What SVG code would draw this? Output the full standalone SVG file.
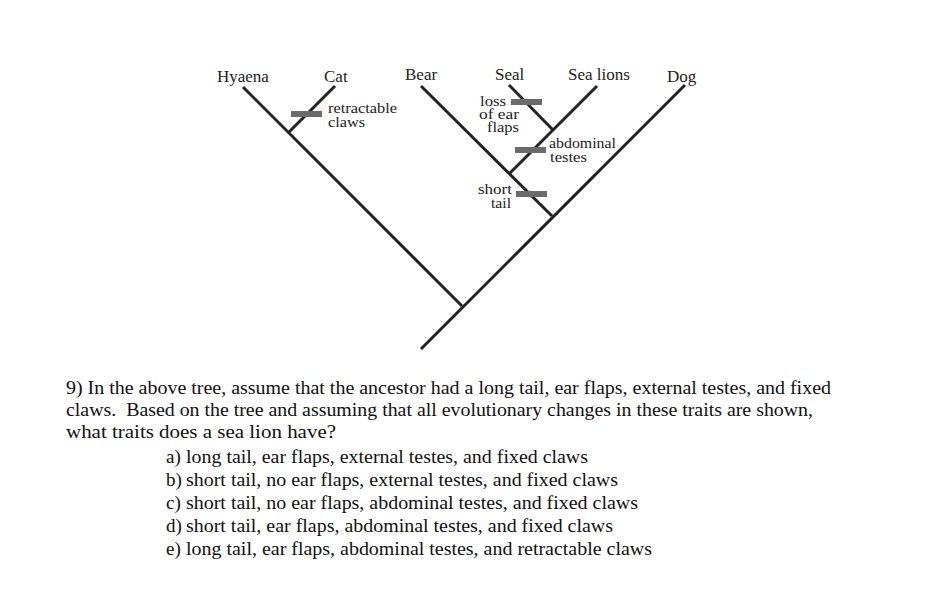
<svg xmlns="http://www.w3.org/2000/svg" width="930" height="599" viewBox="0 0 930 599">
<style>
.br{stroke:#222;stroke-width:3;fill:none;stroke-linecap:butt}
.bar{fill:#6b6b6b}
.tx{font-family:"Liberation Serif","Times New Roman",serif;fill:#222}
.top{font-size:17px}
.lab{font-size:14.5px}
.q{font-size:19px;fill:#111}
</style>
<rect width="930" height="599" fill="#fff"/>
<g id="connectors">
<line class="br" x1="421" y1="349" x2="685" y2="85"/>
<line class="br" x1="462" y1="306" x2="243" y2="87"/>
<line class="br" x1="289" y1="132" x2="335" y2="86"/>
<line class="br" x1="421" y1="86" x2="552" y2="216"/>
<line class="br" x1="510" y1="173" x2="597" y2="86"/>
<line class="br" x1="509" y1="85" x2="553" y2="130"/>
</g>
<g id="node-hyaena"><text class="tx top" x="217" y="82">Hyaena</text></g>
<g id="node-cat"><text class="tx top" x="324" y="82">Cat</text></g>
<g id="node-bear"><text class="tx top" x="405" y="80">Bear</text></g>
<g id="node-seal"><text class="tx top" x="495" y="80">Seal</text></g>
<g id="node-sealions"><text class="tx top" x="568" y="80">Sea lions</text></g>
<g id="node-dog"><text class="tx top" x="667" y="82">Dog</text></g>
<g id="trait-retractable">
<rect class="bar" x="291" y="111" width="31" height="6"/>
<text class="tx lab" x="328" y="113" textLength="69" lengthAdjust="spacingAndGlyphs">retractable</text>
<text class="tx lab" x="328" y="127" textLength="37" lengthAdjust="spacingAndGlyphs">claws</text>
</g>
<g id="trait-earflaps">
<rect class="bar" x="511" y="99" width="31" height="6"/>
<text class="tx lab" x="480" y="106" textLength="26" lengthAdjust="spacingAndGlyphs">loss</text>
<text class="tx lab" x="479" y="119" textLength="40" lengthAdjust="spacingAndGlyphs">of ear</text>
<text class="tx lab" x="487" y="132" textLength="32" lengthAdjust="spacingAndGlyphs">flaps</text>
</g>
<g id="trait-testes">
<rect class="bar" x="515" y="147" width="31" height="6"/>
<text class="tx lab" x="549" y="148" textLength="67" lengthAdjust="spacingAndGlyphs">abdominal</text>
<text class="tx lab" x="550" y="162" textLength="37" lengthAdjust="spacingAndGlyphs">testes</text>
</g>
<g id="trait-shorttail">
<rect class="bar" x="516" y="191" width="31" height="6"/>
<text class="tx lab" x="478" y="194" textLength="34" lengthAdjust="spacingAndGlyphs">short</text>
<text class="tx lab" x="491" y="208" textLength="20" lengthAdjust="spacingAndGlyphs">tail</text>
</g>
<g id="question">
<text class="tx q" x="66" y="394" textLength="765" lengthAdjust="spacingAndGlyphs">9) In the above tree, assume that the ancestor had a long tail, ear flaps, external testes, and fixed</text>
<text class="tx q" x="66" y="416" textLength="747" lengthAdjust="spacingAndGlyphs" style="white-space:pre">claws.  Based on the tree and assuming that all evolutionary changes in these traits are shown,</text>
<text class="tx q" x="66" y="438" textLength="270" lengthAdjust="spacingAndGlyphs">what traits does a sea lion have?</text>
<text class="tx q" x="166" y="463">a)</text>
<text class="tx q" x="186" y="463" textLength="402" lengthAdjust="spacingAndGlyphs">long tail, ear flaps, external testes, and fixed claws</text>
<text class="tx q" x="166" y="486">b)</text>
<text class="tx q" x="186" y="486" textLength="432" lengthAdjust="spacingAndGlyphs">short tail, no ear flaps, external testes, and fixed claws</text>
<text class="tx q" x="166" y="509">c)</text>
<text class="tx q" x="186" y="509" textLength="452" lengthAdjust="spacingAndGlyphs">short tail, no ear flaps, abdominal testes, and fixed claws</text>
<text class="tx q" x="166" y="532">d)</text>
<text class="tx q" x="186" y="532" textLength="427" lengthAdjust="spacingAndGlyphs">short tail, ear flaps, abdominal testes, and fixed claws</text>
<text class="tx q" x="166" y="555">e)</text>
<text class="tx q" x="186" y="555" textLength="466" lengthAdjust="spacingAndGlyphs">long tail, ear flaps, abdominal testes, and retractable claws</text>
</g>
</svg>
